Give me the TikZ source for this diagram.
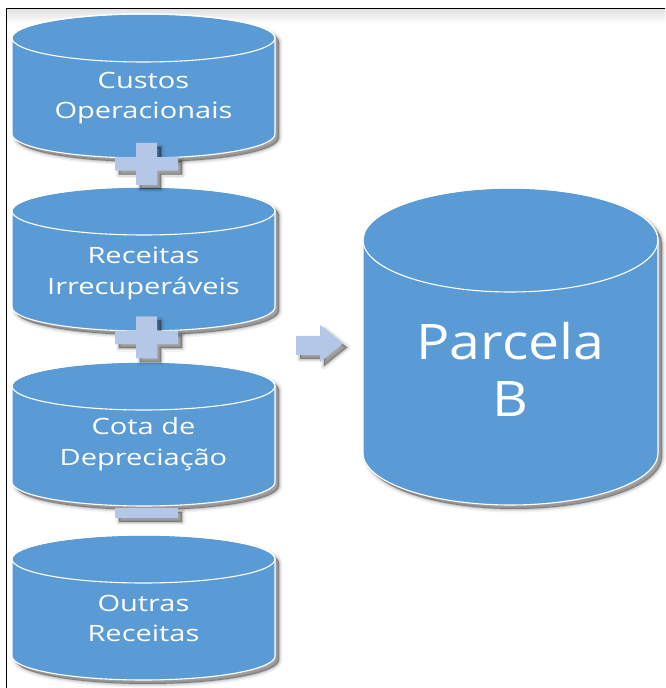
\documentclass[tikz,border=0pt]{standalone}
\usepackage{fontspec}
\newfontfamily\lblfont[FakeStretch=1.29]{Open Sans}
\newfontfamily\bigfont[FakeStretch=1.13]{Open Sans}
\definecolor{dbblue}{HTML}{5B9BD5}
\definecolor{oplight}{HTML}{B4C7E7}

% outline of a cylinder: centre x, y of top ellipse centre, y of bottom ellipse centre, radii
\newcommand\cylpath[5]{(#1-#4,#2) -- (#1-#4,#3)
  arc[start angle=180,end angle=360,x radius=#4,y radius=#5]
  -- (#1+#4,#2) arc[start angle=0,end angle=180,x radius=#4,y radius=#5] -- cycle}
% plus sign centred at (#1,#2)
\newcommand\pluspath[2]{(#1-31.5,#2-6.75) -- (#1-10.5,#2-6.75) -- (#1-10.5,#2-21)
  -- (#1+10.5,#2-21) -- (#1+10.5,#2-6.75) -- (#1+31.5,#2-6.75) -- (#1+31.5,#2+6.75)
  -- (#1+10.5,#2+6.75) -- (#1+10.5,#2+21) -- (#1-10.5,#2+21) -- (#1-10.5,#2+6.75)
  -- (#1-31.5,#2+6.75) -- cycle}
\newcommand\minuspath[2]{(#1-31.5,#2-5) rectangle (#1+31.5,#2+5)}
\newcommand\arrowpath{(296,352) -- (320,352) -- (320,363) -- (343,344.5) -- (320,326)
  -- (320,333) -- (296,333) -- cycle}

% blurred drop shadow under a closed path
\newcommand\softshadow[1]{%
  \begin{scope}[shift={(4,-4)}]
    \draw[black,opacity=0.05,line width=7pt,line join=round] #1;
    \draw[black,opacity=0.08,line width=4pt,line join=round] #1;
    \draw[black,opacity=0.12,line width=1.5pt,line join=round] #1;
    \fill[black,opacity=0.35] #1;
  \end{scope}}

\newcommand\dbcyl[5]{%
  \softshadow{\cylpath{#1}{#2}{#3}{#4}{#5}}
  \filldraw[cylbody] \cylpath{#1}{#2}{#3}{#4}{#5};
  \draw[cylrim] (#1,#2) ellipse[x radius=#4,y radius=#5];}

\tikzset{
  cylbody/.style={fill=dbblue,draw=white,line width=1.1pt},
  cylrim/.style={draw=white,line width=1.1pt},
  opsign/.style={fill=oplight},
  lbl/.style={text=white,font=\lblfont\fontsize{22.5}{27}\selectfont,anchor=base,inner sep=0pt},
  biglbl/.style={text=white,font=\bigfont\fontsize{49}{55}\selectfont,anchor=base,inner sep=0pt},
}

\begin{document}
\begin{tikzpicture}[x=1pt,y=1pt]
\useasboundingbox (0,0) rectangle (665,688);
\fill[white] (0,0) rectangle (665,688);

% frame
\shade[top color=black!12,bottom color=white] (6.5,664) rectangle (665,679.5);
\draw[black,line width=0.9pt] (6,0) -- (6,680) -- (665,680);

% left column of cylinders
\dbcyl{143.5}{650}{554}{131.5}{24}
\dbcyl{143.5}{477}{381}{131.5}{24}
\dbcyl{143.5}{302}{206}{131.5}{24}
\dbcyl{143.5}{129}{32}{131.5}{24}

% result cylinder
\dbcyl{510.5}{448}{235}{147.5}{52}

% operators between the cylinders
\softshadow{\pluspath{146.5}{524}}
\fill[opsign] \pluspath{146.5}{524};
\softshadow{\pluspath{146.5}{350.5}}
\fill[opsign] \pluspath{146.5}{350.5};
\softshadow{\minuspath{146.5}{175}}
\fill[opsign] \minuspath{146.5}{175};
\softshadow{\arrowpath}
\fill[opsign] \arrowpath;

% labels
\node[lbl] (custos)  at (143.5,599) {Custos};
\node[lbl] (custosb) at (143.5,569) {Operacionais};
\node[lbl] (rec)     at (143.5,424) {Receitas};
\node[lbl] (recb)    at (143.5,393) {Irrecuperáveis};
\node[lbl] (cota)    at (143.5,253) {Cota de};
\node[lbl] (cotab)   at (143.5,222) {Depreciação};
\node[lbl] (outras)  at (143.5,76)  {Outras};
\node[lbl] (outrasb) at (143.5,46)  {Receitas};
\node[biglbl] (parc)  at (510.5,328) {Parcela};
\node[biglbl] (parcb) at (510.5,271) {B};
\end{tikzpicture}
\end{document}
